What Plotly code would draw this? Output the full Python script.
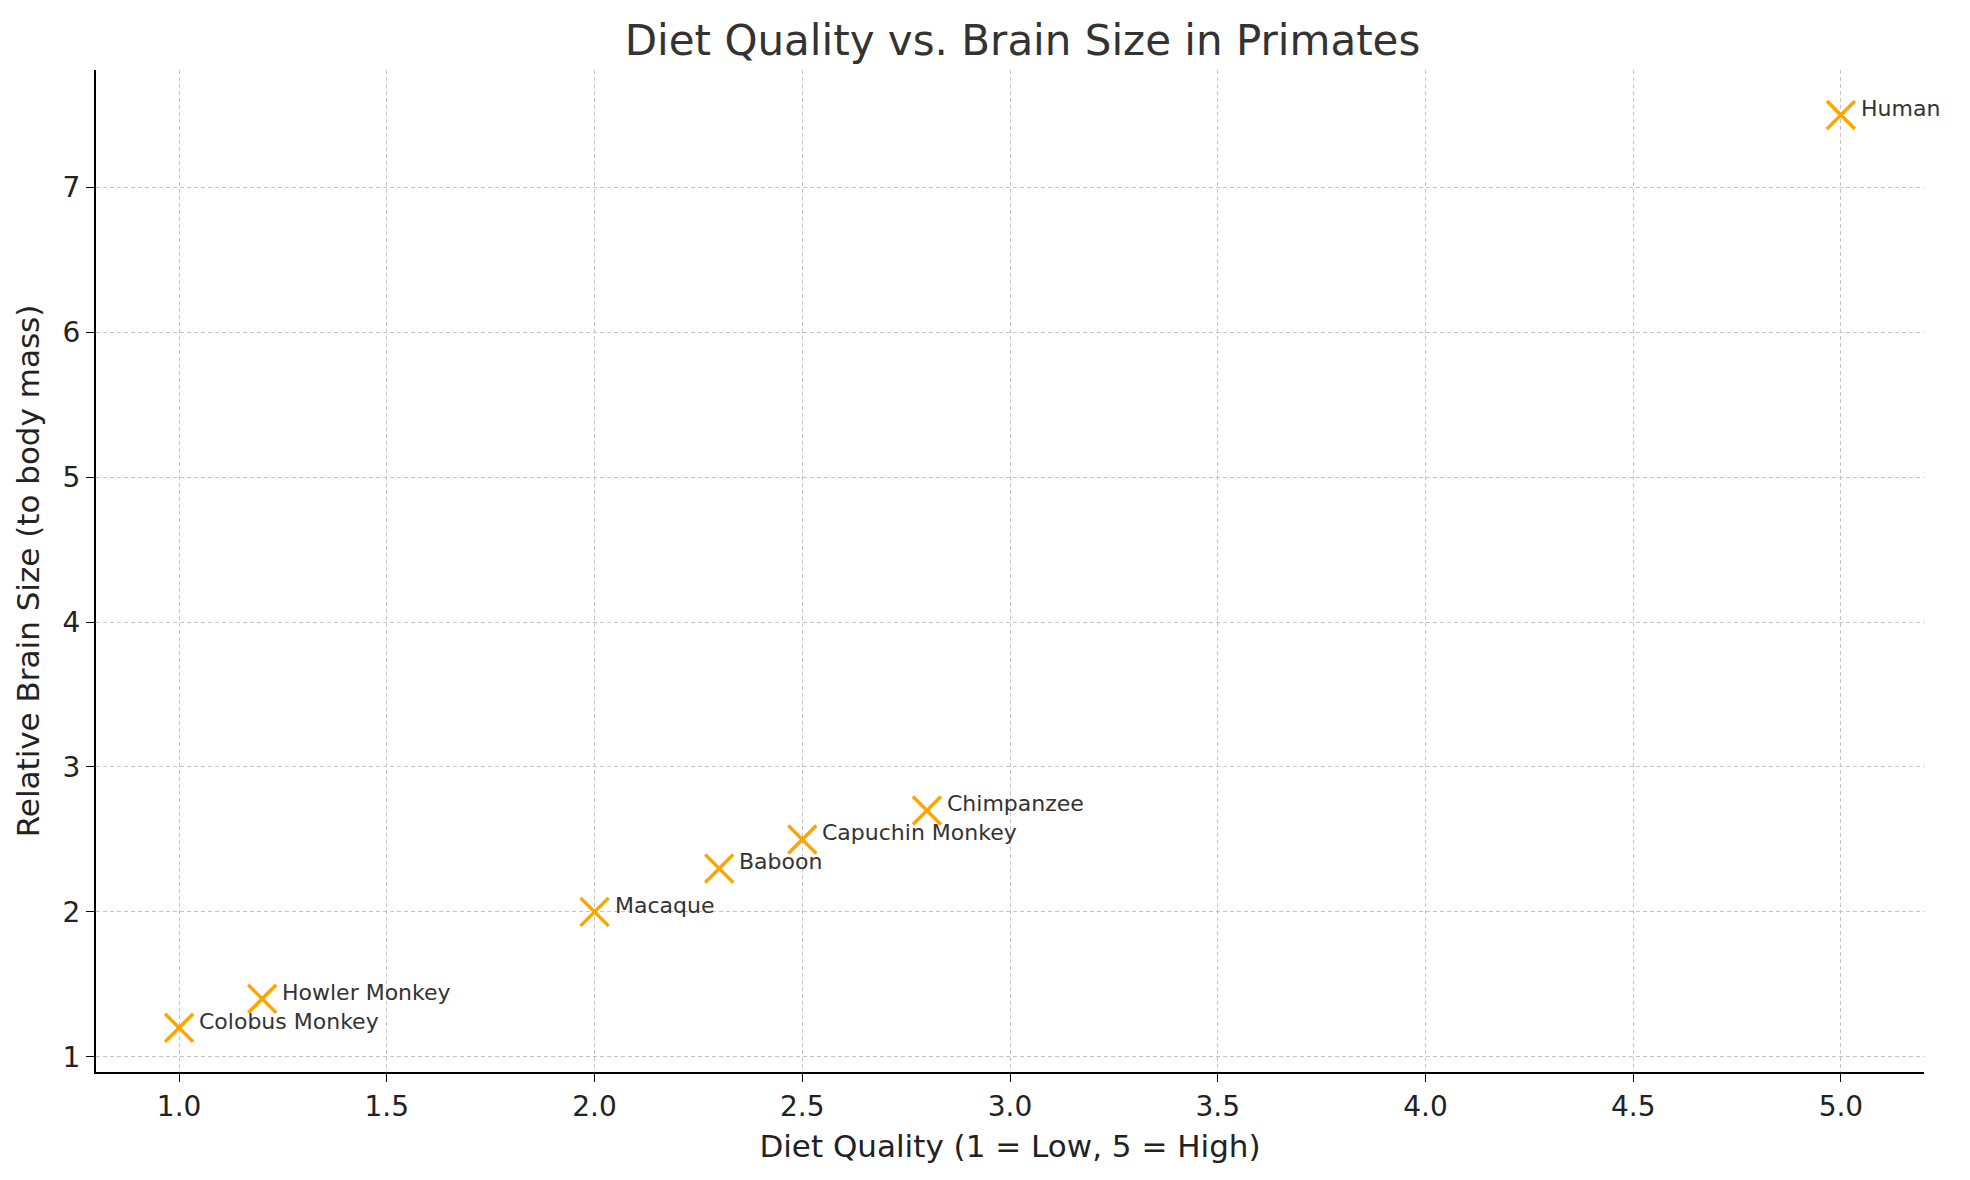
import plotly.graph_objects as go

species = ["Colobus Monkey", "Howler Monkey", "Macaque", "Baboon",
           "Capuchin Monkey", "Chimpanzee", "Human"]
diet_quality = [1.0, 1.2, 2.0, 2.3, 2.5, 2.8, 5.0]
brain_size = [1.2, 1.4, 2.0, 2.3, 2.5, 2.7, 7.5]

fig = go.Figure()
fig.add_trace(go.Scatter(
    x=diet_quality, y=brain_size, mode="markers",
    marker=dict(symbol="x-thin", size=28, color="orange",
                line=dict(width=3.5, color="orange")),
))

for name, xv, yv in zip(species, diet_quality, brain_size):
    fig.add_annotation(x=xv, y=yv, text=name, showarrow=False,
                       xanchor="left", yanchor="bottom",
                       xshift=18, yshift=-8,
                       font=dict(size=22, color="#333333"))

grid = dict(showgrid=True, gridcolor="#c4c4c4", griddash="4px,3px", gridwidth=1,
            showline=True, linecolor="black", linewidth=2, ticks="outside",
            ticklen=8, tickcolor="black", zeroline=False,
            tickfont=dict(size=28, color="#222222"))

fig.update_layout(
    width=1970, height=1180,
    paper_bgcolor="white", plot_bgcolor="white",
    showlegend=False,
    font=dict(family="DejaVu Sans", color="#222222"),
    title=dict(text="Diet Quality vs. Brain Size in Primates", x=0.515,
               xanchor="center", y=0.985, yanchor="top",
               font=dict(size=42, color="#333333")),
    margin=dict(l=88, r=54, t=62, b=116),
    xaxis=dict(range=[0.8, 5.2], dtick=0.5, tickformat=".1f",
               title=dict(text="Diet Quality (1 = Low, 5 = High)",
                          font=dict(size=31), standoff=14), **grid),
    yaxis=dict(range=[0.895, 7.81], dtick=1,
               title=dict(text="Relative Brain Size (to body mass)",
                          font=dict(size=31), standoff=14), **grid),
)

fig.write_html("out.html")
